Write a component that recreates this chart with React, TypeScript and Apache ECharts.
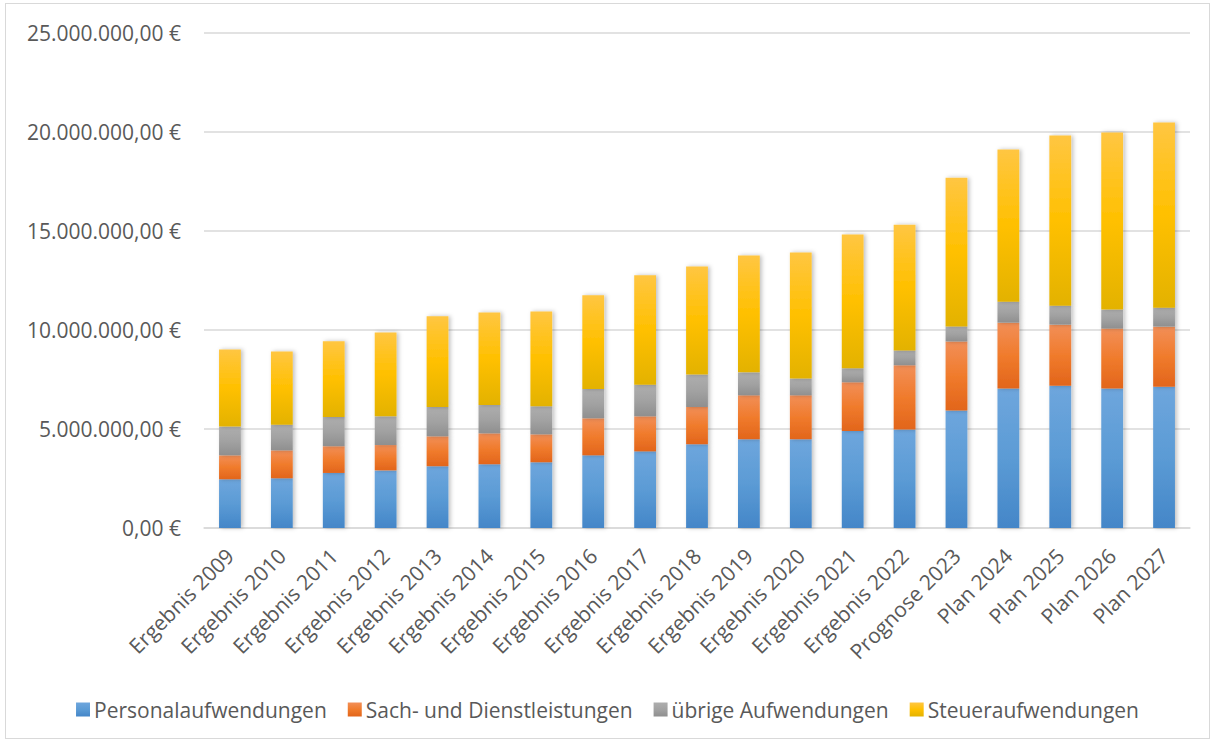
import React, { useEffect, useRef } from "react";
import * as echarts from "echarts";

const categories = [
  "Ergebnis 2009", "Ergebnis 2010", "Ergebnis 2011", "Ergebnis 2012", "Ergebnis 2013",
  "Ergebnis 2014", "Ergebnis 2015", "Ergebnis 2016", "Ergebnis 2017", "Ergebnis 2018",
  "Ergebnis 2019", "Ergebnis 2020", "Ergebnis 2021", "Ergebnis 2022", "Prognose 2023",
  "Plan 2024", "Plan 2025", "Plan 2026", "Plan 2027",
];

const personal = [
  2460000, 2510000, 2780000, 2910000, 3120000, 3220000, 3320000, 3670000, 3870000, 4230000,
  4480000, 4480000, 4900000, 4980000, 5940000, 7040000, 7190000, 7040000, 7140000,
];
const sach = [
  1210000, 1410000, 1350000, 1280000, 1510000, 1560000, 1410000, 1870000, 1770000, 1880000,
  2220000, 2220000, 2460000, 3240000, 3480000, 3330000, 3080000, 3030000, 3030000,
];
const uebrige = [
  1450000, 1300000, 1480000, 1450000, 1480000, 1430000, 1420000, 1480000, 1600000, 1640000,
  1160000, 850000, 710000, 750000, 760000, 1060000, 960000, 960000, 960000,
];
const steuer = [
  3900000, 3700000, 3820000, 4240000, 4580000, 4680000, 4790000, 4730000, 5520000, 5460000,
  5900000, 6360000, 6750000, 6350000, 7510000, 7680000, 8590000, 8940000, 9350000,
];

const seriesNames = [
  "Personalaufwendungen",
  "Sach- und Dienstleistungen",
  "übrige Aufwendungen",
  "Steueraufwendungen",
];

const FONT = "'Open Sans', Lato, sans-serif";
const TXT = "#595959";

function formatEuro(v: number): string {
  const intPart = Math.round(v).toString().replace(/\B(?=(\d{3})+(?!\d))/g, ".");
  return intPart + ",00 €";
}

function grad(top: string, mid: string, bottom: string) {
  return new echarts.graphic.LinearGradient(0, 0, 0, 1, [
    { offset: 0, color: top },
    { offset: 0.5, color: mid },
    { offset: 1, color: bottom },
  ]);
}

export default function App() {
  const ref = useRef<HTMLDivElement>(null);

  useEffect(() => {
    document.body.style.margin = "0";
    if (!ref.current) return;
    const chart = echarts.init(ref.current, undefined, { renderer: "svg" });

    const styles = [
      grad("#6EA6DD", "#5B9BD5", "#4486C8"),
      grad("#F28F58", "#F07B2C", "#E2651B"),
      grad("#AEAEAE", "#A2A2A2", "#8F8F8F"),
      grad("#FFC642", "#FFC000", "#E3B200"),
    ];
    const datas = [personal, sach, uebrige, steuer];

    chart.setOption({
      animation: false,
      backgroundColor: "#ffffff",
      grid: { left: 198, right: 19, top: 29, bottom: 210, containLabel: false },
      legend: {
        bottom: 13,
        left: "center",
        itemWidth: 14,
        itemHeight: 14,
        itemGap: 21,
        icon: "rect",
        textStyle: { color: TXT, fontSize: 21, fontFamily: FONT, padding: [0, 0, 0, -1] },
        data: seriesNames.map((n, i) => ({ name: n, itemStyle: { color: styles[i] } })),
      },
      xAxis: {
        type: "category",
        data: categories,
        axisLine: { show: true, lineStyle: { color: "#D9D9D9", width: 1.5 } },
        axisTick: { show: false },
        axisLabel: {
          rotate: 45,
          interval: 0,
          color: TXT,
          fontSize: 21,
          fontFamily: FONT,
          margin: 24,
        },
      },
      yAxis: {
        type: "value",
        min: 0,
        max: 25000000,
        interval: 5000000,
        axisLine: { show: false },
        axisTick: { show: false },
        splitLine: { lineStyle: { color: "#D9D9D9", width: 1.5 } },
        axisLabel: {
          color: TXT,
          fontSize: 21,
          fontFamily: FONT,
          margin: 23,
          formatter: (v: number) => formatEuro(v),
        },
      },
      series: seriesNames.map((n, i) => ({
        name: n,
        type: "bar",
        stack: "total",
        barWidth: "42%",
        data: datas[i],
        itemStyle: {
          color: styles[i],
          shadowColor: "rgba(0,0,0,0.25)",
          shadowBlur: 4,
          shadowOffsetX: 2,
          shadowOffsetY: 0,
        },
      })),
    });

    return () => chart.dispose();
  }, []);

  return (
    <div style={{ position: "relative", width: 1213, height: 742, background: "#fff" }}>
      <div
        style={{
          position: "absolute",
          left: 5,
          top: 3,
          width: 1205,
          height: 736,
          border: "1.5px solid #D9D9D9",
          boxSizing: "border-box",
          pointerEvents: "none",
        }}
      />
      <div ref={ref} style={{ position: "absolute", left: 6, top: 4, width: 1203, height: 734 }} />
    </div>
  );
}
